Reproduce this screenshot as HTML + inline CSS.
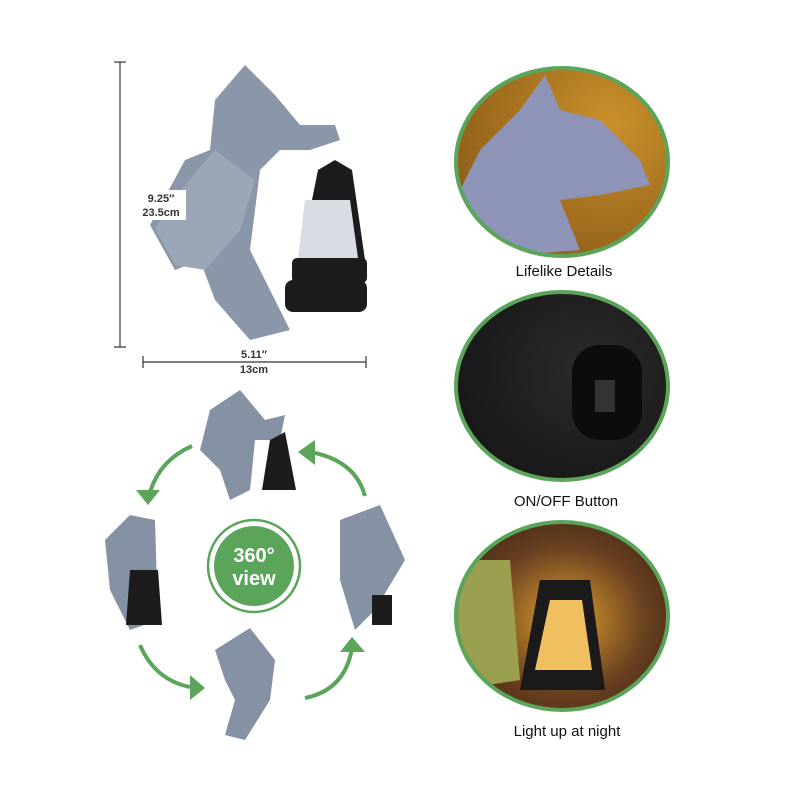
<!DOCTYPE html>
<html><head><meta charset="utf-8"><style>
body{margin:0;background:#fff;width:800px;height:800px;overflow:hidden}
svg{display:block}
text{font-family:"Liberation Sans",sans-serif}
</style></head><body>
<svg width="800" height="800" viewBox="0 0 800 800">
<defs>
<radialGradient id="bg1" cx="0.7" cy="0.3" r="0.8"><stop offset="0" stop-color="#c9902a"/><stop offset="1" stop-color="#8a5a18"/></radialGradient>
<radialGradient id="bg2" cx="0.6" cy="0.4" r="0.8"><stop offset="0" stop-color="#2b2b2b"/><stop offset="1" stop-color="#111"/></radialGradient>
<radialGradient id="bg3" cx="0.5" cy="0.5" r="0.7"><stop offset="0" stop-color="#e0a030"/><stop offset="0.5" stop-color="#6a4020"/><stop offset="1" stop-color="#2a1a10"/></radialGradient>
<clipPath id="c1"><ellipse cx="562" cy="162" rx="106" ry="94"/></clipPath>
<clipPath id="c2"><ellipse cx="562" cy="386" rx="106" ry="94"/></clipPath>
<clipPath id="c3"><ellipse cx="562" cy="616" rx="106" ry="94"/></clipPath>
</defs>
<!-- dimension lines -->
<g stroke="#333" stroke-width="1.2">
<line x1="120" y1="62" x2="120" y2="347"/><line x1="114" y1="62" x2="126" y2="62"/><line x1="114" y1="347" x2="126" y2="347"/>
<line x1="143" y1="362" x2="366" y2="362"/><line x1="143" y1="356" x2="143" y2="368"/><line x1="366" y1="356" x2="366" y2="368"/>
</g>
<!-- main dragon -->
<g fill="#8a97a8">
<path d="M215 100 L245 65 L275 95 L300 125 L335 125 L340 140 L310 150 L280 150 L260 170 L250 250 L275 300 L290 330 L250 340 L215 300 L200 260 L175 270 L150 225 L185 160 L210 150 Z"/>
<path d="M185 185 L215 150 L255 180 L240 230 L205 270 L175 265 L155 228 Z" fill="#9ba7b6"/>
</g>
<g fill="#1c1c1c">
<path d="M318 170 L335 160 L352 170 L365 260 L300 260 Z"/>
<rect x="292" y="258" width="75" height="25" rx="5"/>
<rect x="285" y="280" width="82" height="32" rx="8"/>
</g>
<path d="M305 200 L350 200 L358 258 L298 258 Z" fill="#d8dde3"/>
<rect x="136" y="190" width="50" height="30" fill="#fff"/>
<text x="161" y="202" font-size="11" font-weight="bold" text-anchor="middle" fill="#333">9.25″</text>
<text x="161" y="216" font-size="11" font-weight="bold" text-anchor="middle" fill="#333">23.5cm</text>
<text x="254" y="358" font-size="11" font-weight="bold" text-anchor="middle" fill="#333">5.11″</text>
<text x="254" y="373" font-size="11" font-weight="bold" text-anchor="middle" fill="#333">13cm</text>
<!-- 360 view -->
<circle cx="254" cy="566" r="46" fill="#fff" stroke="#5aa55a" stroke-width="2.5"/>
<circle cx="254" cy="566" r="40" fill="#5aa55a"/>
<text x="254" y="562" font-size="20" font-weight="bold" fill="#fff" text-anchor="middle">360°</text>
<text x="254" y="585" font-size="20" font-weight="bold" fill="#fff" text-anchor="middle">view</text>
<g fill="none" stroke="#5aa55a" stroke-width="4">
<path d="M192 446 Q160 460 150 492"/>
<path d="M365 496 Q355 460 310 452"/>
<path d="M140 645 Q155 680 190 687"/>
<path d="M305 698 Q345 690 352 648"/>
</g>
<g fill="#5aa55a">
<polygon points="136,490 160,490 148,505"/>
<polygon points="298,452 315,440 315,465"/>
<polygon points="190,675 205,688 190,700"/>
<polygon points="340,652 365,652 352,637"/>
</g>
<!-- small dragons -->
<g fill="#8592a3">
<path d="M210 410 L240 390 L265 420 L285 415 L280 440 L255 440 L250 490 L230 500 L220 470 L200 450 Z"/>
<path d="M105 540 L130 515 L155 520 L158 620 L130 630 L110 590 Z"/>
<path d="M340 520 L380 505 L405 560 L375 610 L355 630 L340 580 Z"/>
<path d="M215 650 L250 628 L275 660 L270 700 L245 740 L225 735 L235 700 L225 680 Z"/>
</g>
<g fill="#1c1c1c">
<path d="M270 440 L285 432 L296 490 L262 490 Z"/>
<path d="M130 570 L158 570 L162 625 L126 625 Z"/>
<rect x="372" y="595" width="20" height="30"/>
</g>
<!-- circles -->
<g clip-path="url(#c1)">
<rect x="450" y="60" width="230" height="210" fill="url(#bg1)"/>
<path d="M455 200 L480 150 L520 110 L545 75 L560 110 L600 120 L640 160 L650 185 L600 195 L560 200 L580 250 L455 260 Z" fill="#8e93b8"/>
</g>
<ellipse cx="562" cy="162" rx="106" ry="94" fill="none" stroke="#5aa55a" stroke-width="4"/>
<text x="564" y="276" font-size="15" text-anchor="middle" fill="#111">Lifelike Details</text>
<g clip-path="url(#c2)">
<rect x="450" y="285" width="230" height="210" fill="url(#bg2)"/>
<rect x="572" y="345" width="70" height="95" rx="28" fill="#0c0c0c"/>
<rect x="595" y="380" width="20" height="32" fill="#333"/>
</g>
<ellipse cx="562" cy="386" rx="106" ry="94" fill="none" stroke="#5aa55a" stroke-width="4"/>
<text x="566" y="506" font-size="15" text-anchor="middle" fill="#111">ON/OFF Button</text>
<g clip-path="url(#c3)">
<rect x="450" y="515" width="230" height="210" fill="url(#bg3)"/>
<path d="M455 560 L510 560 L520 680 L455 690 Z" fill="#9aa050"/>
<path d="M540 580 L590 580 L605 690 L520 690 Z" fill="#1a1a1a"/>
<path d="M550 600 L582 600 L592 670 L535 670 Z" fill="#f0c060"/>
</g>
<ellipse cx="562" cy="616" rx="106" ry="94" fill="none" stroke="#5aa55a" stroke-width="4"/>
<text x="567" y="736" font-size="15" text-anchor="middle" fill="#111">Light up at night</text>
</svg>
</body></html>
